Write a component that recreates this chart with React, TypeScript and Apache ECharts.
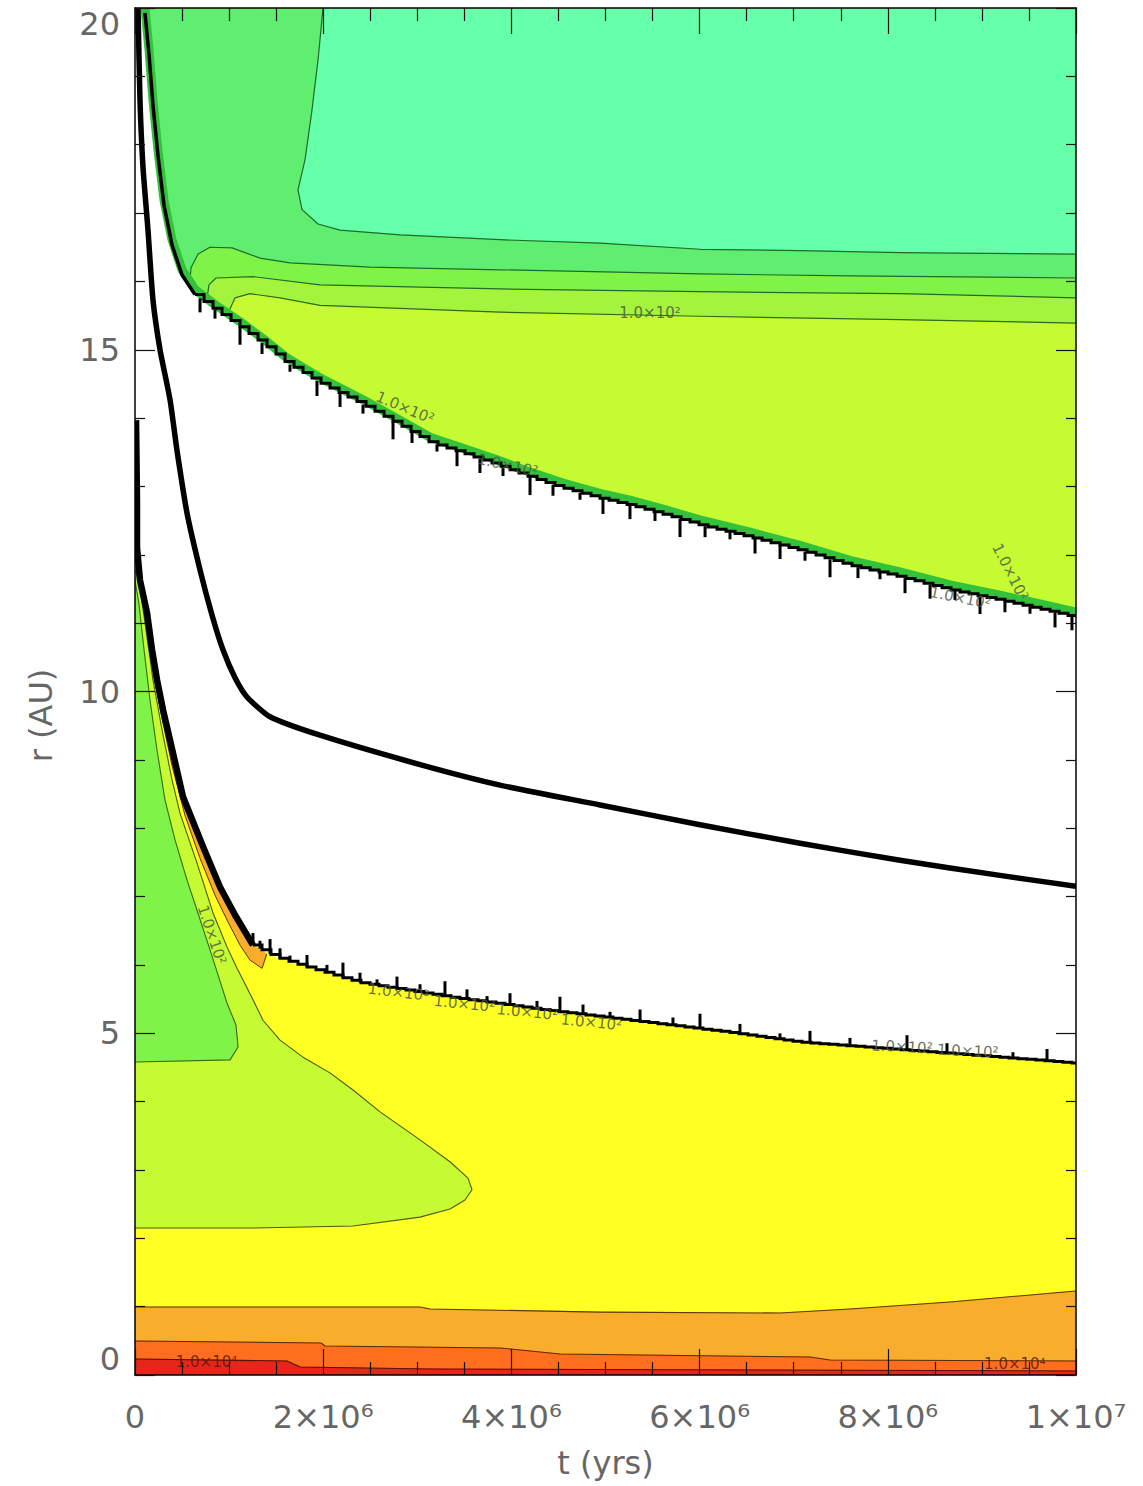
import React, { useEffect, useRef } from "react";
import * as echarts from "echarts";

// ---------- axes ----------
const X_MAX = 1e7;
const Y_MAX = 20;
const xTickValues = [0, 2e6, 4e6, 6e6, 8e6, 1e7];
const xTickLabels = ["0", "2×10⁶", "4×10⁶", "6×10⁶", "8×10⁶", "1×10⁷"];

// ---------- curves: [t (10^6 yrs), r (AU)] ----------
const outerEdge = [
  [0.106, 20.0], [0.149, 19.39], [0.191, 18.65], [0.244, 17.92], [0.308, 17.19], [0.393, 16.61],
  [0.499, 16.17], [0.638, 15.88], [0.85, 15.66], [1.116, 15.41], [1.382, 15.14], [1.615, 14.88],
  [1.966, 14.59], [2.423, 14.27], [2.816, 13.97], [3.135, 13.72], [3.486, 13.56], [3.847, 13.39],
  [4.198, 13.21], [4.548, 13.05], [4.942, 12.9], [5.26, 12.8], [5.632, 12.66], [6.004, 12.51],
  [6.536, 12.33], [7.067, 12.14], [7.598, 11.92], [8.13, 11.75], [8.661, 11.56], [9.192, 11.41],
  [9.617, 11.28], [10.0, 11.16],
];
const contourA = [
  [1.998, 20.0], [1.945, 19.24], [1.881, 18.51], [1.807, 17.78], [1.732, 17.34], [1.775, 17.05],
  [1.945, 16.84], [2.179, 16.75], [2.816, 16.68], [3.879, 16.61], [4.942, 16.56], [6.004, 16.47],
  [7.067, 16.45], [8.13, 16.42], [10.0, 16.4],
];
const contourB = [
  [0.584, 16.0], [0.595, 16.2], [0.67, 16.4], [0.797, 16.5], [1.031, 16.49], [1.328, 16.34],
  [1.647, 16.27], [2.497, 16.21], [3.879, 16.17], [6.004, 16.11], [7.598, 16.08], [10.0, 16.05],
];
const contourC = [
  [0.765, 15.75], [0.786, 15.95], [0.861, 16.05], [1.254, 16.07], [1.966, 15.95], [3.879, 15.89],
  [6.004, 15.85], [8.13, 15.82], [10.0, 15.76],
];
const contourD = [
  [0.988, 15.53], [1.063, 15.76], [1.222, 15.82], [1.541, 15.76], [1.966, 15.65], [3.879, 15.55],
  [6.004, 15.49], [8.13, 15.44], [10.0, 15.39],
];
const middleCurve = [
  [0.032, 20.0], [0.053, 18.65], [0.085, 17.67], [0.138, 16.75], [0.191, 15.73], [0.266, 15.0],
  [0.372, 14.27], [0.446, 13.53], [0.553, 12.61], [0.691, 11.78], [0.818, 11.12], [0.935, 10.61],
  [1.063, 10.2], [1.19, 9.92], [1.435, 9.63], [1.966, 9.36], [3.029, 8.93], [3.879, 8.63],
  [4.942, 8.34], [6.004, 8.05], [7.067, 7.78], [8.13, 7.53], [9.192, 7.31], [10.0, 7.15],
];
const lowerCurve = [
  [0.011, 13.97], [0.021, 12.8], [0.021, 12.11], [0.053, 11.63], [0.128, 11.15], [0.181, 10.61],
  [0.234, 10.17], [0.298, 9.73], [0.372, 9.29], [0.51, 8.46], [0.723, 7.73], [0.903, 7.14],
  [1.063, 6.73], [1.254, 6.29], [1.488, 6.12], [1.753, 6.0], [2.391, 5.74], [3.347, 5.53],
  [4.304, 5.35], [5.26, 5.19], [6.217, 5.03], [7.067, 4.87], [8.13, 4.76], [9.192, 4.65],
  [10.0, 4.56],
];
const orangeTop = [
  [0, 0.995], [3.029, 0.995], [3.135, 0.966], [4.942, 0.92], [6.854, 0.907], [7.598, 0.966],
  [8.661, 1.068], [10.0, 1.229],
];
const orangeRedTop = [
  [0, 0.497], [1.977, 0.468], [2.019, 0.424], [3.879, 0.395], [4.516, 0.307], [7.173, 0.263],
  [7.386, 0.219], [10.0, 0.205],
];
const redTop = [[0, 0.234], [1.615, 0.205], [1.753, 0.117], [3.135, 0.088], [10.0, 0.059]];
const limeLobe = [
  [0, 2.15], [1.222, 2.15], [2.317, 2.18], [3.029, 2.31], [3.347, 2.43], [3.507, 2.56],
  [3.581, 2.71], [3.539, 2.88], [3.347, 3.12], [3.029, 3.44], [2.604, 3.85], [2.317, 4.17],
  [2.072, 4.42], [1.785, 4.65], [1.541, 4.9], [1.36, 5.19], [1.254, 5.49], [1.148, 5.78],
  [1.084, 5.95], [0.978, 6.26], [0.829, 6.76], [0.659, 7.49], [0.478, 8.22], [0.393, 8.71],
  [0.287, 9.44], [0.191, 10.17], [0.117, 10.9], [0.064, 11.41], [0.021, 11.7], [0, 11.78],
];
const greenPatch = [
  [0, 11.63], [0.043, 11.27], [0.096, 10.61], [0.159, 9.88], [0.234, 9.14], [0.319, 8.41],
  [0.425, 7.83], [0.553, 7.24], [0.659, 6.8], [0.797, 6.22], [0.978, 5.44], [1.073, 5.12],
  [1.095, 4.8], [1.01, 4.61], [0, 4.58],
];
const orangeBandInner = [
  [1.4, 6.16], [1.35, 5.95], [1.222, 6.07], [1.116, 6.29], [0.988, 6.63], [0.85, 7.02],
  [0.691, 7.56], [0.531, 8.19], [0.393, 8.92], [0.287, 9.61], [0.191, 10.31], [0.117, 10.97],
  [0.085, 11.27],
];
// spikes along the gap edges (t in 10^6 yrs)
const upperTeethT = [
  0.691, 0.85, 1.116, 1.35, 1.647, 1.934, 2.179, 2.423, 2.742, 2.944, 3.209, 3.422, 3.666, 3.911,
  4.198, 4.442, 4.729, 4.973, 5.26, 5.526, 5.792, 6.058, 6.323, 6.589, 6.855, 7.12, 7.386, 7.683,
  7.917, 8.183, 8.449, 8.714, 8.98, 9.245, 9.511, 9.777, 9.957,
];
const lowerTeethT = [
  1.254, 1.328, 1.435, 1.541, 1.647, 1.828, 2.04, 2.21, 2.391, 2.572, 2.784, 3.029, 3.294, 3.528,
  3.741, 3.985, 4.272, 4.516, 4.761, 5.048, 5.367, 5.717, 6.004, 6.429, 6.854, 7.173, 7.598,
  8.204, 8.629, 9.33, 9.692,
];
// contour labels
const labelPos = [
  [5.473, 15.54], [2.87, 14.15], [3.96, 13.31], [9.3, 11.75], [8.77, 11.37], [0.818, 6.44],
  [2.8, 5.6], [3.5, 5.43], [4.17, 5.31], [4.85, 5.16], [8.15, 4.8], [8.85, 4.74],
  [0.76, 0.19], [9.35, 0.16],
];
const labelText = [
  "1.0×10²", "1.0×10²", "1.0×10²", "1.0×10²", "1.0×10²", "1.0×10²", "1.0×10²", "1.0×10²",
  "1.0×10²", "1.0×10²", "1.0×10²", "1.0×10²", "1.0×10⁴", "1.0×10⁴",
];

// ---------- styles ----------
const labelAngle = [0, -0.4, -0.22, -1.1, -0.2, -1.25, -0.12, -0.1, -0.1, -0.1, -0.05, -0.05, 0, 0];
const COL = {
  cyan: "#66ffaa",
  green: "#60ee70",
  green2: "#80f348",
  green3: "#a4f43e",
  lime: "#c6fb34",
  yellow: "#ffff24",
  orange: "#f9ad2c",
  orangeRed: "#ff6e1e",
  red: "#e6261a",
};
const FONT = "DejaVu Sans";
const TEXT = "#666666";

function coord(api: any, p: number[]) {
  return api.coord([p[0] * 1e6, p[1]]);
}

function interpY(pp: number[][], x: number) {
  for (let i = 0; i < pp.length - 1; i++) {
    const a = pp[i];
    const b = pp[i + 1];
    if (x >= a[0] && x <= b[0]) {
      const d = b[0] - a[0];
      return d === 0 ? b[1] : a[1] + ((b[1] - a[1]) * (x - a[0])) / d;
    }
  }
  return x < pp[0][0] ? pp[0][1] : pp[pp.length - 1][1];
}

function stairs(pp: number[][], step: number) {
  const out: number[][] = [[pp[0][0], pp[0][1]]];
  let x = pp[0][0];
  let y = pp[0][1];
  const xEnd = pp[pp.length - 1][0];
  while (x < xEnd - 0.01) {
    const nx = Math.min(x + step, xEnd);
    const ny = interpY(pp, nx);
    out.push([nx, y], [nx, ny]);
    x = nx;
    y = ny;
  }
  return out;
}

function polygonSeries(pts: number[][], fill: string) {
  return {
    type: "custom",
    coordinateSystem: "cartesian2d",
    silent: true,
    clip: true,
    data: [[0, 0]],
    renderItem: (_p: any, api: any) => ({
      type: "polygon",
      shape: { points: pts.map((p) => coord(api, p)) },
      style: { fill, stroke: fill, lineWidth: 0.6 },
    }),
  };
}

function lineSeries(pts: number[][], stroke: string, lineWidth: number, smooth = 0) {
  return {
    type: "custom",
    coordinateSystem: "cartesian2d",
    silent: true,
    clip: true,
    data: [[0, 0]],
    renderItem: (_p: any, api: any) => ({
      type: "polyline",
      shape: { points: pts.map((p) => coord(api, p)), smooth },
      style: { stroke, lineWidth, fill: "none", lineJoin: "round" },
    }),
  };
}

// jagged edge: smooth head, staircase tail, spikes
function jaggedSeries(
  pts: number[][],
  stairFrom: number,
  teeth: number[],
  dy: number,
  dir: number,
  headWidth: number,
  tailWidth: number,
  toothLens: number[]
) {
  return {
    type: "custom",
    coordinateSystem: "cartesian2d",
    silent: true,
    clip: true,
    data: [[0, 0]],
    renderItem: (_p: any, api: any) => {
      const head = pts.filter((p) => p[0] <= stairFrom).map((p) => {
        const c = coord(api, p);
        return [c[0], c[1] + dy];
      });
      const tailPx = pts.filter((p) => p[0] >= stairFrom).map((p) => {
        const c = coord(api, p);
        return [c[0], c[1] + dy];
      });
      const tail = stairs(tailPx, 9);
      const children: any[] = [
        {
          type: "polyline",
          shape: { points: head },
          style: { stroke: "#000", lineWidth: headWidth, fill: "none", lineJoin: "round" },
        },
        {
          type: "polyline",
          shape: { points: tail },
          style: { stroke: "#000", lineWidth: tailWidth, fill: "none" },
        },
      ];
      teeth.forEach((t, i) => {
        const x = coord(api, [t, 0])[0];
        const y = interpY(tailPx, x);
        const len = toothLens[i % toothLens.length];
        children.push({
          type: "line",
          shape: { x1: x, y1: y, x2: x, y2: y + dir * len },
          style: { stroke: "#000", lineWidth: 3 },
        });
      });
      return { type: "group", children };
    },
  };
}

function labelSeries() {
  return {
    type: "custom",
    coordinateSystem: "cartesian2d",
    silent: true,
    clip: true,
    data: [[0, 0]],
    renderItem: (_p: any, api: any) => ({
      type: "group",
      children: labelPos.map((p, i) => {
        const c = coord(api, p);
        return {
          type: "text",
          x: c[0],
          y: c[1],
          rotation: labelAngle[i],
          style: {
            text: labelText[i],
            fill: i >= 12 ? "#5a1a10" : "#4c5a40",
            fontSize: 15,
            fontFamily: FONT,
            align: "center",
            verticalAlign: "middle",
            opacity: 0.85,
          },
        };
      }),
    }),
  };
}

function buildOption() {
  const rev = (a: number[][]) => a.slice().reverse();
  const edgeAfter = (t0: number) => rev(outerEdge.filter((p) => p[0] > t0));
  const orangeBandOuter = lowerCurve.filter((p) => p[0] >= 0.12 && p[0] <= 1.26);

  const axisLine = { show: true, onZero: false, lineStyle: { color: "#000", width: 1.5 } };
  const tick = { show: true, inside: true, lineStyle: { color: "#111", width: 1.2 } };
  const labelStyle = { color: TEXT, fontSize: 32, fontFamily: FONT };

  const xFormatter = (v: number) => {
    const i = xTickValues.indexOf(v);
    return i >= 0 ? xTickLabels[i] : "";
  };

  const series: any[] = [
    // outer region
    polygonSeries([...outerEdge, [10, 20]], COL.cyan),
    polygonSeries([...contourA, ...rev(outerEdge)], COL.green),
    polygonSeries([...contourB, ...edgeAfter(contourB[0][0])], COL.green2),
    polygonSeries([...contourC, ...edgeAfter(contourC[0][0])], COL.green3),
    polygonSeries([...contourD, ...edgeAfter(contourD[0][0])], COL.lime),
    // inner region
    polygonSeries([[0, lowerCurve[0][1]], ...lowerCurve, [10, 0], [0, 0]], COL.yellow),
    polygonSeries([...orangeTop, [10, 0], [0, 0]], COL.orange),
    polygonSeries([...orangeRedTop, [10, 0], [0, 0]], COL.orangeRed),
    polygonSeries([...redTop, [10, 0], [0, 0]], COL.red),
    polygonSeries(limeLobe, COL.lime),
    polygonSeries(greenPatch, COL.green2),
    polygonSeries([...orangeBandOuter, ...orangeBandInner], COL.orange),
    // contour lines
    lineSeries(contourA, "#1f6a2c", 1.2),
    lineSeries(contourB, "#1f6a2c", 1.2),
    lineSeries(contourC, "#1f6a2c", 1.2),
    lineSeries(contourD, "#2c6a1c", 1.2),
    lineSeries(limeLobe, "#4e5a10", 1.1),
    lineSeries(greenPatch, "#3d6a14", 1.1),
    lineSeries(orangeBandInner, "#5a3a00", 1.0),
    lineSeries(orangeTop, "#5a3a00", 1.1),
    lineSeries(orangeRedTop, "#5a2a00", 1.1),
    lineSeries(redTop, "#5a1000", 1.1),
    // gap edges
    lineSeries(outerEdge, "#33c23a", 9),
    jaggedSeries(outerEdge, 0.638, upperTeethT, 5, 1, 3.5, 3, [14, 9, 18, 11, 7, 15]),
    lineSeries(middleCurve, "#000", 5.5, 0.2),
    jaggedSeries(lowerCurve, 1.254, lowerTeethT, 0, -1, 6.5, 3, [12, 8, 15, 10, 6]),
    labelSeries(),
  ];

  return {
    animation: false,
    backgroundColor: "#ffffff",
    grid: { left: 135, right: 67, top: 8, bottom: 111, containLabel: false },
    xAxis: [
      {
        type: "value",
        min: 0,
        max: X_MAX,
        interval: 2e6,
        position: "bottom",
        z: 10,
        axisLine,
        axisTick: { ...tick, length: 26 },
        minorTick: { show: true, splitNumber: 4, length: 13, lineStyle: { color: "#111", width: 1.2 } },
        splitLine: { show: false },
        axisLabel: { ...labelStyle, margin: 26, formatter: xFormatter },
        name: "t (yrs)",
        nameLocation: "middle",
        nameGap: 72,
        nameTextStyle: labelStyle,
      },
      {
        type: "value",
        min: 0,
        max: X_MAX,
        interval: 2e6,
        position: "top",
        z: 10,
        axisLine,
        axisTick: { ...tick, length: 26 },
        minorTick: { show: true, splitNumber: 4, length: 13, lineStyle: { color: "#111", width: 1.2 } },
        splitLine: { show: false },
        axisLabel: { show: false },
      },
    ],
    yAxis: [
      {
        type: "value",
        min: 0,
        max: Y_MAX,
        interval: 5,
        position: "left",
        z: 10,
        axisLine,
        axisTick: { ...tick, length: 20 },
        minorTick: { show: true, splitNumber: 5, length: 10, lineStyle: { color: "#111", width: 1.2 } },
        splitLine: { show: false },
        axisLabel: {
          ...labelStyle,
          margin: 15,
          verticalAlignMinLabel: "bottom",
          verticalAlignMaxLabel: "top",
        },
        name: "r (AU)",
        nameLocation: "middle",
        nameGap: 78,
        nameTextStyle: { ...labelStyle, padding: [0, 48, 0, 0] },
      },
      {
        type: "value",
        min: 0,
        max: Y_MAX,
        interval: 5,
        position: "right",
        z: 10,
        axisLine,
        axisTick: { ...tick, length: 20 },
        minorTick: { show: true, splitNumber: 5, length: 10, lineStyle: { color: "#111", width: 1.2 } },
        splitLine: { show: false },
        axisLabel: { show: false },
      },
    ],
    series,
  };
}

export default function App() {
  const ref = useRef<HTMLDivElement>(null);
  useEffect(() => {
    document.body.style.margin = "0";
    const chart = echarts.init(ref.current as HTMLDivElement, null, { renderer: "svg" });
    chart.setOption(buildOption() as any);
    return () => chart.dispose();
  }, []);
  return <div ref={ref} style={{ width: 1143, height: 1486 }} />;
}
